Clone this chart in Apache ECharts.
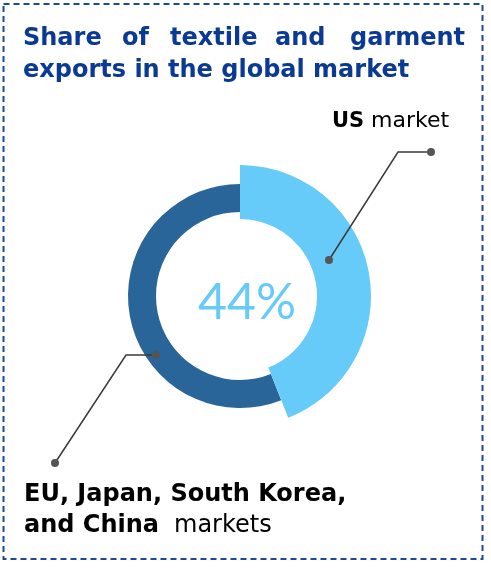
<!DOCTYPE html>
<html>
<head>
<meta charset="utf-8">
<script src="https://cdn.jsdelivr.net/npm/echarts@6/dist/echarts.min.js"></script>
<style>
html,body{margin:0;padding:0;background:#fff;}
#chart{width:491px;height:568px;}
</style>
</head>
<body>
<div id="chart"></div>
<script>
// Data
const categories = ['US market', 'EU, Japan, South Korea, and China markets'];
const shares = [44, 56];
const titleLine1 = ['Share', 'of', 'textile', 'and', 'garment'];
const titleLine2 = 'exports in the global market';

const LIGHT = '#66CBF8';
const DARK = '#2A6599';
const NAVY = '#0A3A94';
const FONT = '"DejaVu Sans", sans-serif';

const chart = echarts.init(document.getElementById('chart'), null, {renderer: 'canvas'});

const cx = 240, cy = 296;
const word1X = [23, 122, 170, 275, 350];

function txt(x, baseline, text, size, weight, fill) {
  return {
    type: 'text', x: x, y: baseline - 0.25 * size,
    style: {text: text, fill: fill, font: weight + ' ' + size + 'px ' + FONT, textVerticalAlign: 'middle'}
  };
}

const graphics = [];
// dashed border
graphics.push({
  type: 'rect', shape: {x: 3.5, y: 4, width: 479, height: 555},
  style: {fill: 'none', stroke: '#1B4A9C', lineWidth: 2, lineDash: [6, 4]}, z: 1
});
// title (first line justified)
titleLine1.forEach((w, i) => graphics.push(txt(word1X[i], 45, w, 24, 'bold', NAVY)));
graphics.push(txt(23, 77, titleLine2, 24, 'bold', NAVY));
// US market label
graphics.push(txt(332, 127, 'US', 21, 'bold', '#000'));
graphics.push(txt(371, 127, 'market', 22, 'normal', '#000'));
// EU label
graphics.push(txt(24, 501, 'EU, Japan, South Korea,', 24, 'bold', '#000'));
graphics.push(txt(24, 532, 'and China', 24, 'bold', '#000'));
graphics.push(txt(174, 532, 'markets', 24, 'normal', '#000'));
// leader lines
const lineStyle = {stroke: '#3a3a3a', lineWidth: 1.5, fill: 'none'};
graphics.push({type: 'polyline', shape: {points: [[329, 260], [398, 152], [431, 152]]}, style: lineStyle, z: 10});
graphics.push({type: 'circle', shape: {cx: 329, cy: 260, r: 4}, style: {fill: '#555'}, z: 10});
graphics.push({type: 'circle', shape: {cx: 431, cy: 152, r: 4}, style: {fill: '#555'}, z: 10});
graphics.push({type: 'polyline', shape: {points: [[156, 355], [126, 355], [55, 463]]}, style: lineStyle, z: 10});
graphics.push({type: 'circle', shape: {cx: 156, cy: 355, r: 4}, style: {fill: '#555'}, z: 10});
graphics.push({type: 'circle', shape: {cx: 55, cy: 463, r: 4}, style: {fill: '#555'}, z: 10});
// center value
graphics.push({
  type: 'text', x: 247, y: 303,
  style: {text: shares[0] + '%', fill: LIGHT, font: 'normal 50px Lato, sans-serif', textAlign: 'center', textVerticalAlign: 'middle'},
  z: 10
});

chart.setOption({
  animation: false,
  graphic: graphics,
  series: [
    {
      type: 'pie', center: [cx, cy], radius: [77, 131], startAngle: 90, clockwise: true,
      label: {show: false}, labelLine: {show: false}, silent: true,
      data: [
        {name: categories[0], value: shares[0], itemStyle: {color: LIGHT}},
        {name: categories[1], value: shares[1], itemStyle: {color: 'rgba(0,0,0,0)'}}
      ]
    },
    {
      type: 'pie', center: [cx, cy], radius: [84, 112], startAngle: 90, clockwise: true,
      label: {show: false}, labelLine: {show: false}, silent: true, z: 1,
      data: [
        {name: categories[0], value: shares[0], itemStyle: {color: 'rgba(0,0,0,0)'}},
        {name: categories[1], value: shares[1], itemStyle: {color: DARK}}
      ]
    }
  ]
});
</script>
</body>
</html>
